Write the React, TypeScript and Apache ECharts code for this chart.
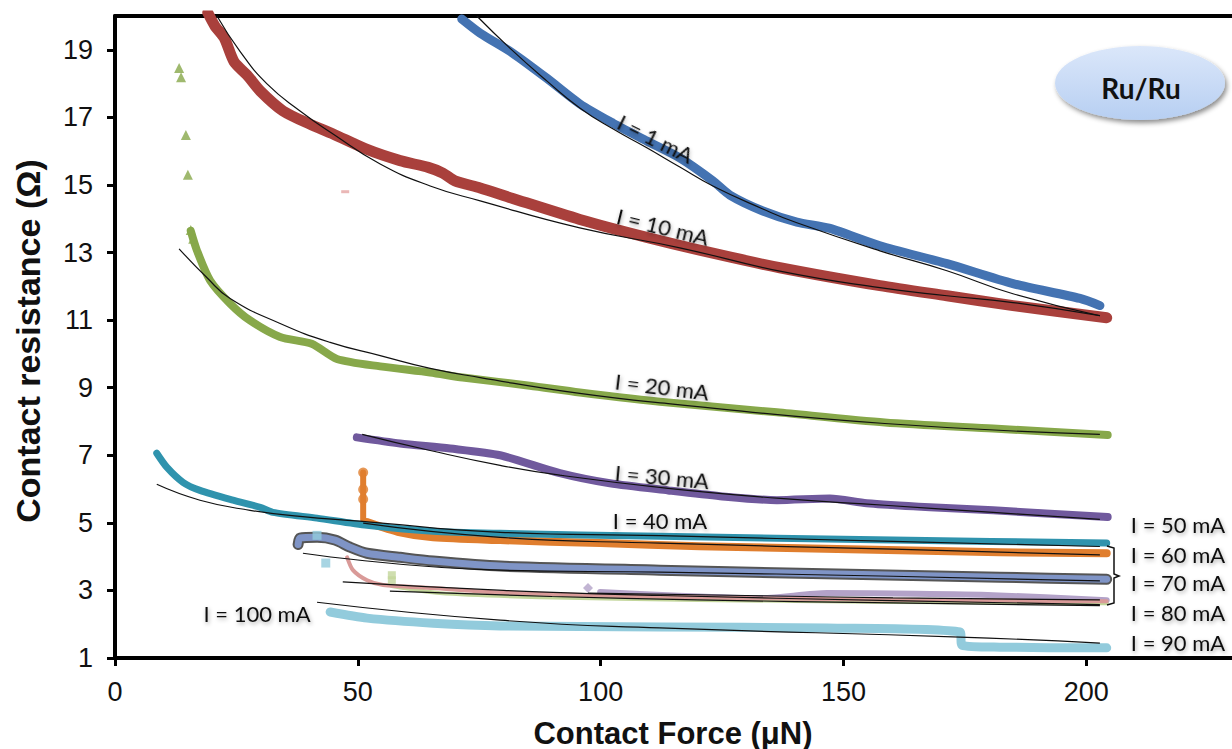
import React, { useEffect, useRef } from "react";
import * as echarts from "echarts";

// ---- axis ticks ----
const xTicks = [0, 50, 100, 150, 200];
const yTicks = [1, 3, 5, 7, 9, 11, 13, 15, 17, 19];

// ---- measured bands [force µN, resistance Ω] ----
const blue1mA = [[71.4, 19.91], [75.2, 19.49], [81.9, 18.9], [88.9, 18.16], [95.7, 17.4], [102.5, 16.83], [109.5, 16.3], [116.3, 15.8], [123.1, 15.12], [126.6, 14.7], [133.4, 14.23], [140.4, 13.9], [147, 13.72], [157.5, 13.2], [171.3, 12.67], [184.9, 12.08], [198.7, 11.64], [202.8, 11.43]];
const red10mA = [[19.1, 20.1], [20.6, 19.7], [22.5, 19.35], [24.5, 18.65], [27.2, 18.25], [29.9, 17.78], [34.6, 17.19], [40.1, 16.8], [44.9, 16.51], [51.9, 16.05], [58.7, 15.72], [64.5, 15.52], [67.5, 15.35], [70.0, 15.12], [75.2, 14.91], [81.9, 14.6], [95.7, 13.98], [109.5, 13.45], [123.1, 12.98], [136.9, 12.55], [157.5, 12.02], [171.3, 11.72], [184.9, 11.43], [204.2, 11.07]];
const green20mA = [[15.6, 13.64], [16.9, 13.05], [19.6, 12.17], [23.7, 11.49], [27.8, 10.99], [34.0, 10.5], [40.5, 10.3], [45.7, 9.85], [54.6, 9.63], [64.9, 9.45], [71.6, 9.3], [85.4, 9.06], [95.7, 8.86], [113.9, 8.56], [136.3, 8.27], [158.5, 7.97], [180.8, 7.79], [204.4, 7.6]];
const purple30mA = [[49.8, 7.53], [58.7, 7.35], [69.0, 7.2], [79.3, 7.0], [91.6, 6.47], [101.9, 6.17], [113.9, 5.96], [124.6, 5.79], [136.3, 5.67], [147.2, 5.72], [154.8, 5.58], [167.8, 5.46], [180.8, 5.37], [204.4, 5.17]];
const teal40mA = [[8.6, 7.06], [10.7, 6.64], [14.0, 6.2], [17.5, 5.96], [24.3, 5.67], [29.9, 5.46], [32.5, 5.31], [41.6, 5.14], [51.9, 4.93], [65.5, 4.75], [79.3, 4.69], [112.2, 4.6], [160.2, 4.49], [204.2, 4.4]];
const orange50mA = [[51.9, 5.02], [58.7, 4.72], [65.5, 4.57], [79.3, 4.49], [99.9, 4.4], [120.4, 4.31], [141.0, 4.25], [161.6, 4.19], [182.2, 4.13], [204.2, 4.1]];
const orangeSpike = [[51.1, 6.49], [51.1, 5.99], [51.1, 5.76], [51.1, 5.52], [51.1, 5.28], [51.1, 5.1]];
const slate60mA = [[37.7, 4.36], [38.1, 4.55], [41.6, 4.57], [45.3, 4.49], [48.4, 4.28], [51.9, 4.1], [58.7, 3.98], [65.5, 3.87], [79.3, 3.72], [112.2, 3.6], [141.0, 3.51], [161.6, 3.45], [182.2, 3.39], [204.2, 3.33]];
const pink70mA = [[47.8, 3.98], [49.0, 3.6], [51.9, 3.3], [55.2, 3.16], [65.5, 3.07], [77.2, 2.95], [100, 2.85], [140, 2.75], [180, 2.7], [204.2, 2.68]];
const lime80mA = [[57.0, 3.13], [66.9, 2.92], [87.5, 2.8], [120, 2.72], [160, 2.66], [204.2, 2.62]];
const lilac90mA = [[99.9, 2.95], [115, 2.85], [132.8, 2.77], [146.6, 2.92], [165, 2.9], [180.8, 2.86], [204.2, 2.71]];
const sky100mA = [[44.3, 2.36], [51.9, 2.18], [65.5, 2.03], [79.3, 1.95], [112.2, 1.92], [146.6, 1.89], [174.0, 1.77], [174.4, 1.38], [182.2, 1.32], [204.2, 1.3]];

// ---- isolated outlier markers ----
const greenTriangles = [[13.2, 18.46], [13.6, 18.19], [14.6, 16.48], [15.0, 15.3], [15.6, 13.67], [16.1, 13.41]];
const orangeDots = [[51.1, 6.49], [51.1, 5.99], [51.1, 5.7]];
const skySquares = [[41.6, 4.63], [43.4, 3.81]];
const limeSquares = [[57.0, 3.45], [57.0, 3.3]];
const lilacDiamond = [[97.4, 3.07]];
const pinkDash = [[47.4, 14.8]];

// ---- fitted curves ----
const fit1mA = [[74.5, 20.0], [81.3, 19.05], [88.9, 18.08], [95.7, 17.28], [102.5, 16.66], [109.5, 16.1], [116.3, 15.53], [123.1, 14.97], [133.4, 14.29], [140.4, 13.88], [157.5, 13.05], [171.3, 12.46], [184.9, 11.78], [202.8, 11.13]];
const fit10mA = [[21.0, 20.0], [25.7, 18.96], [31.3, 17.99], [38.1, 17.19], [44.9, 16.51], [54.6, 15.62], [64.9, 14.97], [75.2, 14.53], [95.7, 13.73], [116.3, 13.14], [136.9, 12.45], [157.5, 11.96], [171.3, 11.72], [184.9, 11.52], [202.8, 11.13]];
const fit20mA = [[13.2, 13.11], [18.9, 12.26], [23.7, 11.64], [34.0, 10.9], [44.3, 10.34], [54.6, 9.95], [64.9, 9.57], [75.2, 9.3], [95.7, 8.83], [113.9, 8.53], [158.5, 7.94], [202.8, 7.62]];
const fit30mA = [[50.9, 7.62], [64.9, 7.14], [79.3, 6.7], [91.6, 6.41], [113.9, 6.02], [136.3, 5.73], [158.5, 5.52], [180.8, 5.31], [202.8, 5.1]];
const fit40mA = [[8.6, 6.14], [17.5, 5.67], [27.8, 5.37], [38.1, 5.19], [50.4, 5.05], [79.3, 4.72], [112.2, 4.62], [160.2, 4.45], [202.8, 4.3]];
const fit50mA = [[51.1, 4.99], [79.3, 4.57], [112.2, 4.4], [160.2, 4.22], [202.8, 4.05]];
const fit60mA = [[38.7, 4.1], [79.3, 3.6], [112.2, 3.54], [160.2, 3.42], [202.8, 3.28]];
const fit70mA = [[46.9, 3.25], [80, 3.0], [112.2, 2.85], [160.2, 2.7], [202.8, 2.58]];
const fit80mA = [[56.6, 2.98], [90, 2.82], [120, 2.72], [160.2, 2.63], [202.8, 2.55]];
const fit90mA = [[97.4, 2.92], [130, 2.85], [160.2, 2.78], [202.8, 2.72]];
const fit100mA = [[41.6, 2.65], [79.3, 2.12], [112.2, 1.89], [174.0, 1.62], [202.8, 1.44]];

const bandSeries = (data: number[][], color: string, width: number, z = 2) => ({
  type: "line",
  data,
  symbol: "none",
  smooth: 0.25,
  z,
  lineStyle: { color, width, cap: "round", join: "round" },
});
const fitSeries = (data: number[][]) => ({
  type: "line",
  data,
  symbol: "none",
  smooth: true,
  z: 5,
  lineStyle: { color: "#111", width: 1.2 },
});
const markerSeries = (data: number[][], color: string, symbol: string, size: number | number[]) => ({
  type: "scatter",
  data,
  symbol,
  symbolSize: size,
  z: 3,
  itemStyle: { color },
});

const labelFont = "Lato, 'Open Sans', sans-serif";
const label = (text: string, x: number, y: number, rotation = 0) => ({
  type: "text",
  x,
  y,
  rotation,
  z: 20,
  style: {
    text,
    x: 0,
    y: 0,
    align: "center",
    verticalAlign: "middle",
    font: `22px ${labelFont}`,
    fill: "#111",
    textShadowColor: "rgba(0,0,0,0.35)",
    textShadowBlur: 4,
    textShadowOffsetX: 1,
    textShadowOffsetY: 2,
  },
});

export default function App() {
  const ref = useRef<HTMLDivElement>(null);
  useEffect(() => {
    const chart = echarts.init(ref.current!, null, { renderer: "svg" });
    const axisFont = "'Liberation Sans', Arial, sans-serif";
    chart.setOption({
      animation: false,
      backgroundColor: "#fff",
      grid: { left: 115, right: 0, top: 16, bottom: 91 },
      xAxis: [
        {
          type: "value",
          min: 0,
          max: 230,
          interval: 50,
          splitLine: { show: false },
          axisLine: { show: true, lineStyle: { color: "#000", width: 4 } },
          axisTick: { show: true, length: 8, lineStyle: { color: "#000", width: 3 }, customValues: xTicks },
          axisLabel: { customValues: xTicks, color: "#111", fontSize: 27, fontFamily: axisFont, margin: 20 },
        },
        {
          type: "value",
          position: "top",
          min: 0,
          max: 230,
          splitLine: { show: false },
          axisLine: { show: true, onZero: false, lineStyle: { color: "#000", width: 4 } },
          axisTick: { show: false },
          axisLabel: { show: false },
        },
      ],
      yAxis: {
        type: "value",
        min: 1,
        max: 20,
        interval: 1,
        splitLine: { show: false },
        axisLine: { show: true, lineStyle: { color: "#000", width: 4 } },
        axisTick: { show: true, length: 8, lineStyle: { color: "#000", width: 3 }, customValues: yTicks },
        axisLabel: { customValues: yTicks, color: "#111", fontSize: 27, fontFamily: axisFont, margin: 22 },
      },
      series: [
        bandSeries(sky100mA, "#92cbdc", 9),
        bandSeries(lilac90mA, "#b3a2c8", 6),
        bandSeries(lime80mA, "#c3d69b", 4),
        bandSeries(pink70mA, "#d99a98", 4),
        bandSeries(slate60mA, "#555", 11),
        bandSeries(slate60mA, "#7f94c6", 7, 2),
        bandSeries(orange50mA, "#e07e2e", 8),
        bandSeries(orangeSpike, "#e07e2e", 6),
        bandSeries(teal40mA, "#2f93ad", 7),
        bandSeries(purple30mA, "#70599d", 8),
        bandSeries(green20mA, "#87a84a", 8),
        bandSeries(red10mA, "#a9403c", 11),
        bandSeries(blue1mA, "#4473b2", 9),
        markerSeries(greenTriangles, "#87a84a", "triangle", 10),
        markerSeries(orangeDots, "#e07e2e", "circle", 10),
        markerSeries(skySquares, "#92cbdc", "rect", 9),
        markerSeries(limeSquares, "#c3d69b", "rect", 8),
        markerSeries(lilacDiamond, "#b3a2c8", "diamond", 10),
        markerSeries(pinkDash, "#e5a5a4", "rect", [8, 3]),
        fitSeries(fit1mA),
        fitSeries(fit10mA),
        fitSeries(fit20mA),
        fitSeries(fit30mA),
        fitSeries(fit40mA),
        fitSeries(fit50mA),
        fitSeries(fit60mA),
        fitSeries(fit70mA),
        fitSeries(fit80mA),
        fitSeries(fit90mA),
        fitSeries(fit100mA),
      ],
      graphic: [
        {
          type: "text",
          x: 673,
          y: 733,
          style: { text: "Contact Force (μN)", align: "center", verticalAlign: "middle", font: `bold 31px ${axisFont}`, fill: "#111" },
        },
        {
          type: "text",
          x: 28,
          y: 341,
          rotation: Math.PI / 2,
          style: { text: "Contact resistance (Ω)", align: "center", verticalAlign: "middle", font: `bold 34px ${axisFont}`, fill: "#111" },
        },
        {
          type: "ellipse",
          z: 15,
          shape: { cx: 1140, cy: 83, rx: 85, ry: 37 },
          style: {
            fill: new echarts.graphic.LinearGradient(0, 0, 0, 1, [
              { offset: 0, color: "#dbe7fa" },
              { offset: 1, color: "#b7cff2" },
            ]),
            shadowColor: "rgba(0,0,0,0.45)",
            shadowBlur: 5,
            shadowOffsetX: 2,
            shadowOffsetY: 3,
          },
        },
        {
          type: "text",
          x: 1141,
          y: 88,
          z: 16,
          style: { text: "Ru/Ru", align: "center", verticalAlign: "middle", font: `bold 28px ${labelFont}`, fill: "#111" },
        },
        label("I = 1 mA", 656, 138, -0.46),
        label("I = 10 mA", 663, 226, -0.24),
        label("I = 20 mA", 662, 387, -0.12),
        label("I = 30 mA", 662, 477, -0.09),
        label("I = 40 mA", 660, 520, 0),
        label("I = 100 mA", 257, 613, 0),
        label("I = 50 mA", 1178, 524, 0),
        label("I = 60 mA", 1178, 554, 0),
        label("I = 70 mA", 1178, 582, 0),
        label("I = 80 mA", 1178, 612, 0),
        label("I = 90 mA", 1178, 642, 0),
        {
          type: "polyline",
          z: 20,
          shape: { points: [[1107, 546], [1114, 548], [1114, 574], [1119, 576], [1114, 578], [1114, 603], [1107, 605]] },
          style: { stroke: "#111", lineWidth: 1.5, fill: "none" },
        },
      ],
    });
    return () => chart.dispose();
  }, []);
  return <div ref={ref} style={{ position: "fixed", left: 0, top: 0, width: 1232, height: 749 }} />;
}
